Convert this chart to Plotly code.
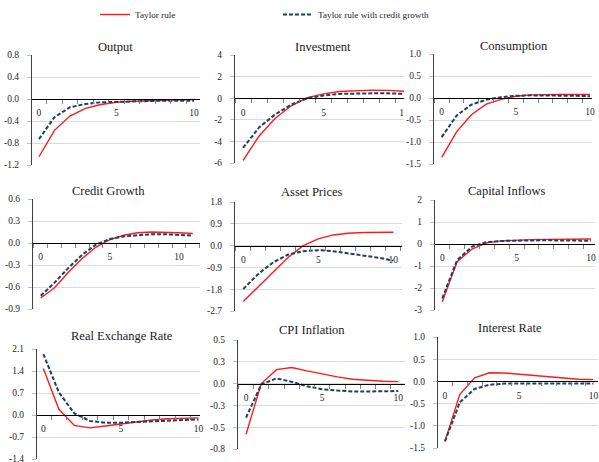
import plotly.graph_objects as go

W, H = 599, 462

# ---------------- data ----------------
periods = list(range(11))
periods_credit = list(range(12))

output_taylor = [-1.05, -0.57, -0.31, -0.17, -0.10, -0.06, -0.04, -0.03, -0.02, -0.02, -0.01]
output_credit = [-0.73, -0.33, -0.15, -0.09, -0.06, -0.05, -0.04, -0.04, -0.03, -0.03, -0.03]

investment_taylor = [-5.75, -3.5, -1.85, -0.7, 0.05, 0.4, 0.62, 0.7, 0.75, 0.72, 0.65]
investment_credit = [-4.6, -2.7, -1.5, -0.6, 0.0, 0.25, 0.4, 0.45, 0.45, 0.45, 0.4]

consumption_taylor = [-1.35, -0.77, -0.38, -0.14, -0.03, 0.04, 0.07, 0.08, 0.08, 0.08, 0.08]
consumption_credit = [-0.89, -0.40, -0.15, -0.04, 0.02, 0.05, 0.06, 0.06, 0.05, 0.05, 0.04]

credit_taylor = [-0.75, -0.61, -0.40, -0.21, -0.055, 0.046, 0.105, 0.14, 0.15, 0.15, 0.14, 0.13]
credit_credit = [-0.72, -0.54, -0.34, -0.16, -0.02, 0.055, 0.09, 0.11, 0.12, 0.12, 0.105, 0.10]

asset_taylor = [-2.31, -1.69, -1.06, -0.48, 0.0, 0.28, 0.44, 0.51, 0.54, 0.55, 0.55]
asset_credit = [-1.79, -1.17, -0.69, -0.37, -0.23, -0.19, -0.23, -0.32, -0.40, -0.50, -0.62]

capital_taylor = [-2.62, -0.80, -0.23, 0.06, 0.14, 0.18, 0.20, 0.21, 0.22, 0.22, 0.23]
capital_credit = [-2.47, -0.73, -0.12, 0.09, 0.14, 0.16, 0.17, 0.17, 0.16, 0.15, 0.15]

rer_taylor = [1.48, 0.18, -0.33, -0.41, -0.35, -0.28, -0.21, -0.16, -0.12, -0.10, -0.09]
rer_credit = [1.94, 0.72, 0.05, -0.19, -0.25, -0.25, -0.22, -0.20, -0.18, -0.16, -0.14]

cpi_taylor = [-0.58, 0.0, 0.16, 0.185, 0.146, 0.11, 0.077, 0.05, 0.035, 0.027, 0.023]
cpi_credit = [-0.39, -0.01, 0.06, 0.02, -0.03, -0.065, -0.08, -0.09, -0.09, -0.085, -0.085]

interest_taylor = [-1.35, -0.29, 0.08, 0.195, 0.19, 0.16, 0.12, 0.10, 0.075, 0.05, 0.04]
interest_credit = [-1.35, -0.47, -0.17, -0.075, -0.05, -0.045, -0.045, -0.045, -0.045, -0.045, -0.045]

titles = ["Output", "Investment", "Consumption",
          "Credit Growth", "Asset Prices", "Capital Inflows",
          "Real Exchange Rate", "CPI Inflation", "Interest Rate"]

ytick_vals = [
    [-1.2, -0.8, -0.4, 0, 0.4, 0.8],
    [-6, -4, -2, 0, 2, 4],
    [-1.5, -1.0, -0.5, 0, 0.5, 1.0],
    [-0.9, -0.6, -0.3, 0, 0.3, 0.6],
    [-2.7, -1.8, -0.9, 0, 0.9, 1.8],
    [-3, -2, -1, 0, 1, 2],
    [-1.4, -0.7, 0, 0.7, 1.4, 2.1],
    [-0.75, -0.5, -0.25, 0, 0.25, 0.5],
    [-1.5, -1.0, -0.5, 0, 0.5, 1.0],
]
ytick_text = [
    ["-1.2", "-0.8", "-0.4", "0.0", "0.4", "0.8"],
    ["-6", "-4", "-2", "0", "2", "4"],
    ["-1.5", "-1.0", "-0.5", "0.0", "0.5", "1.0"],
    ["-0.9", "-0.6", "-0.3", "0.0", "0.3", "0.6"],
    ["-2.7", "-1.8", "-0.9", "0.0", "0.9", "1.8"],
    ["-3", "-2", "-1", "0", "1", "2"],
    ["-1.4", "-0.7", "0.0", "0.7", "1.4", "2.1"],
    ["-0.8", "-0.5", "-0.3", "0.0", "0.3", "0.5"],
    ["-1.5", "-1.0", "-0.5", "0.0", "0.5", "1.0"],
]
xtick_vals = [0, 5, 10]
xtick_text = ["0", "5", "10"]

series = [
    (periods, output_taylor, output_credit),
    (periods, investment_taylor, investment_credit),
    (periods, consumption_taylor, consumption_credit),
    (periods_credit, credit_taylor, credit_credit),
    (periods, asset_taylor, asset_credit),
    (periods, capital_taylor, capital_credit),
    (periods, rer_taylor, rer_credit),
    (periods, cpi_taylor, cpi_credit),
    (periods, interest_taylor, interest_credit),
]

# ---------------- layout (pixel boxes) ----------------
boxes = [
    (32, 200, 55, 165), (235, 404, 55, 163), (434, 592, 54, 164),
    (33, 200, 199, 309), (235, 402, 202, 311), (435, 595, 200, 310),
    (37, 200, 349, 459), (238, 405, 340, 449), (438, 598, 337, 448),
]
xranges = [
    (-0.45, 10.39), (-0.5, 10.0), (-0.52, 10.13),
    (-0.56, 11.52), (-0.55, 10.58), (-0.49, 10.27),
    (-0.41, 10.1), (-0.53, 10.44), (-0.47, 10.31),
]
title_pos = [
    (115, 47), (323, 47), (514, 46),
    (108, 191), (312, 192), (507, 191),
    (122, 336), (312, 330), (510, 328),
]

RED = "#FF1A1A"
BLUE = "#1F3E66"
FONT = "Liberation Serif"
TXT = "#262626"

fig = go.Figure()
layout = {}
annotations = []

for i in range(9):
    n = i + 1
    xa = "x" if n == 1 else f"x{n}"
    ya = "y" if n == 1 else f"y{n}"
    xk = "xaxis" if n == 1 else f"xaxis{n}"
    yk = "yaxis" if n == 1 else f"yaxis{n}"
    L, R, T, B = boxes[i]
    ydom = [1 - B / H, 1 - T / H]
    xdom = [L / W, R / W]
    ymin, ymax = min(ytick_vals[i]), max(ytick_vals[i])
    zero_pos = ydom[0] + (0 - ymin) / (ymax - ymin) * (ydom[1] - ydom[0])

    xs, t, c = series[i]
    fig.add_trace(go.Scatter(x=xs, y=t, mode="lines", name="Taylor rule",
                             line=dict(color=RED, width=1.4),
                             xaxis=xa, yaxis=ya, showlegend=(i == 0),
                             legendgroup="t"))
    fig.add_trace(go.Scatter(x=xs, y=c, mode="lines", name="Taylor rule with credit growth",
                             line=dict(color=BLUE, width=2, dash="4px,2px"),
                             xaxis=xa, yaxis=ya, showlegend=(i == 0),
                             legendgroup="c"))

    layout[xk] = dict(domain=xdom, range=list(xranges[i]), anchor="free",
                      position=zero_pos, showline=True, linecolor="#000000",
                      linewidth=1, showgrid=False, zeroline=False,
                      tickmode="array", tickvals=xtick_vals, ticktext=xtick_text,
                      ticks="outside", ticklen=5, tickcolor="rgba(0,0,0,0)",
                      minor=dict(tickmode="linear", tick0=0.5, dtick=1,
                                 ticks="outside", ticklen=4, tickcolor="#808080",
                                 showgrid=False),
                      tickfont=dict(family=FONT, size=9.5, color=TXT),
                      fixedrange=True)
    layout[yk] = dict(domain=ydom, range=[ymin, ymax], anchor=xa,
                      showline=True, linecolor="#404040", linewidth=1,
                      showgrid=True, gridcolor="#DADADA", gridwidth=1,
                      zeroline=False, tickmode="array",
                      tickvals=ytick_vals[i], ticktext=ytick_text[i],
                      ticks="outside", ticklen=4, tickcolor="#BFBFBF",
                      ticklabelstandoff=6, ticklabeloverflow="allow",
                      tickfont=dict(family=FONT, size=9.5, color=TXT),
                      fixedrange=True)
    tx, ty = title_pos[i]
    annotations.append(dict(text=titles[i], x=tx / W, y=1 - ty / H,
                            xref="paper", yref="paper", showarrow=False,
                            xanchor="center", yanchor="middle",
                            font=dict(family=FONT, size=12.5, color="#1A1A1A")))

fig.update_layout(**layout)
fig.update_layout(
    width=W, height=H,
    margin=dict(l=0, r=0, t=0, b=0, autoexpand=False),
    paper_bgcolor="white", plot_bgcolor="white",
    annotations=annotations,
    showlegend=True,
    legend=dict(orientation="h", x=95 / W, xanchor="left", y=1.0, yanchor="top",
                entrywidth=138, entrywidthmode="pixels",
                font=dict(family=FONT, size=9.2, color=TXT),
                bgcolor="rgba(0,0,0,0)", tracegroupgap=0),
    shapes=[dict(type="rect", xref="paper", yref="paper",
                 x0=403 / W, x1=410 / W, y0=1 - 117 / H, y1=1 - 102 / H,
                 fillcolor="white", line=dict(width=0), layer="above")],
)

fig.write_html("out.html", config={"displayModeBar": False},
               post_script="document.body.style.margin='0';")
